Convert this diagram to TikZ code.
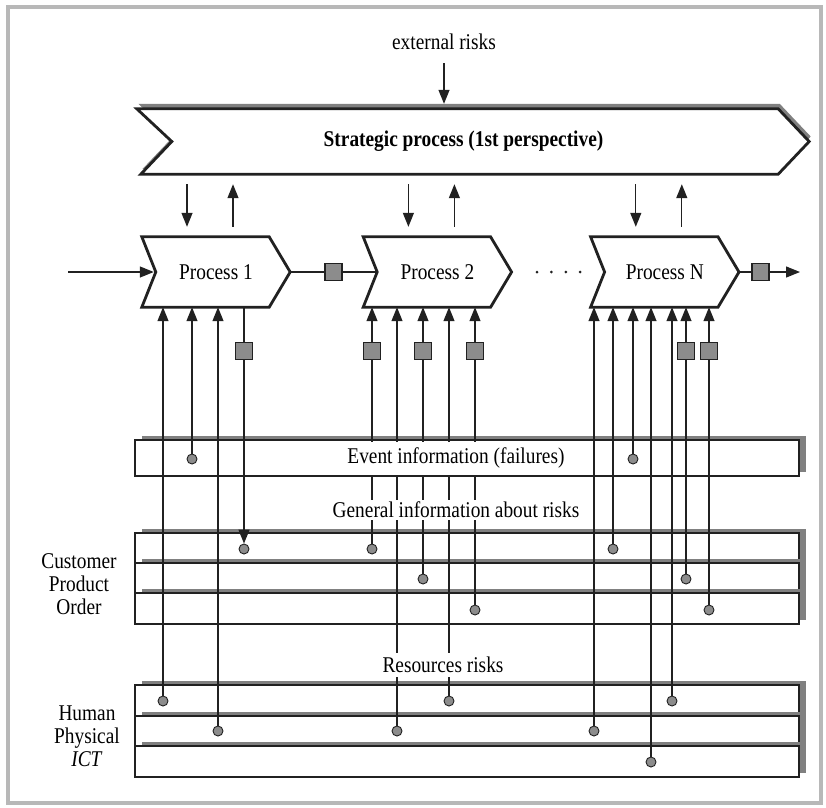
\documentclass[tikz,border=0pt]{standalone}
\usepackage{fontspec}
\setmainfont{Liberation Serif}[FakeStretch=0.86]
\usetikzlibrary{positioning,arrows.meta,shadows,backgrounds}
\definecolor{inkc}{gray}{0.13}
\definecolor{shadec}{gray}{0.5}
\definecolor{framec}{gray}{0.72}
\definecolor{dotc}{gray}{0.55}

\begin{document}
\begin{tikzpicture}[x=1pt,y=-1pt,
        font=\fontsize{22.5}{23}\selectfont,
        chev/.style={draw=inkc,fill=white,line width=2.8pt},
        bar/.style={draw=inkc,fill=white,line width=2.8pt,minimum width=664pt,minimum height=#1,
            inner sep=0pt,outer sep=0pt,drop shadow={shadow xshift=7pt,shadow yshift=4.5pt,fill=shadec,opacity=1}},
        box/.style={minimum width=148pt,minimum height=70pt,inner sep=0pt},
        wire/.style={draw=inkc,line width=1.3pt},
        arr/.style={wire,-{Triangle[length=14pt,width=11pt]}},
        dot/.style={circle,draw=inkc,line width=0.9pt,fill=dotc,minimum size=10pt,inner sep=0pt},
        sq/.style={rectangle,draw=inkc,line width=1.8pt,fill=dotc,minimum size=17pt,inner sep=0pt},
        lbl/.style={fill=white,inner sep=2pt}]
        \useasboundingbox (0,0) rectangle (826,807);
        \draw[framec,line width=4pt] (8,7) rectangle (821,803);

        \node (ext) at (444,42) {external risks};
        \node[box,minimum width=672pt,minimum height=65pt] (S) at (473,141.5) {};
        \node[font=\fontsize{22.5}{23}\selectfont\bfseries] (Stxt) at ([xshift=-9.5pt]S.center) {Strategic process (1st perspective)};

        \node[box] (P1) at (216,272) {Process 1};
        \node[box,right=73pt of P1] (P2) {Process 2};
        \node[box,right=79pt of P2] (PN) {Process N};

        \begin{scope}[on background layer]
            \draw[chev,drop shadow={shadow xshift=1.5pt,shadow yshift=5pt,fill=shadec,opacity=1}]
                (S.north west) -- ([xshift=-31pt]S.north east) -- (S.east) -- ([xshift=-31pt]S.south east)
                -- ([xshift=4pt]S.south west) -- ([xshift=35pt]S.west) -- cycle;
            \foreach \p in {P1,P2,PN}
                \draw[chev] (\p.north west) -- ([xshift=-21pt]\p.north east) -- (\p.east)
                    -- ([xshift=-21pt]\p.south east) -- (\p.south west) -- ([xshift=14pt]\p.west) -- cycle;
        \end{scope}

        \draw[arr,shorten <=10pt,shorten >=5pt] (ext) -- (ext |- S.north);

        \foreach \p in {P1,P2,PN} {
            \coordinate (\p-dn) at ([xshift=-29pt]\p.north);
            \coordinate (\p-up) at ([xshift=17pt]\p.north);
            \draw[arr,shorten <=10pt,shorten >=10pt] (\p-dn |- S.south) -- (\p-dn);
            \draw[arr,shorten <=10pt,shorten >=10pt] (\p-up) -- (\p-up |- S.south);
        }

        \coordinate (in) at (68,272);
        \coordinate (out) at (800,272);
        \draw[arr] (in) -- ([xshift=12pt]P1.west);
        \draw[wire] (P1.east) -- node[sq] {} ([xshift=13pt]P2.west);
        \foreach \i in {0,...,3}
            \fill[inkc] ({537+14.4*\i},272) circle (1.5pt);
        \draw[arr] (PN.east) -- node[sq,pos=0.355] {} (out);

        \node[bar=36pt] (E) at (467,458) {};
        \node[bar=30pt] (C) at (467,548) {};
        \node[bar=30pt,below=0pt of C] (Pd) {};
        \node[bar=31pt,below=0pt of Pd] (O) {};
        \node[bar=31pt] (H) at (467,700.5) {};
        \node[bar=30pt,below=0pt of H] (Ph) {};
        \node[bar=31pt,below=0pt of Ph] (I) {};

        \node[align=center] (cpo) at (79,584) {Customer\\Product\\Order};
        \node[align=center] (hpi) at (87,736) {Human\\Physical\\\textit{ICT}};

        \node[dot] (e1) at (192,459) {};
        \node[dot] (e2) at (633,459) {};
        \node[dot] (c1) at (244,549) {};
        \node[dot] (c2) at (372,549) {};
        \node[dot] (c3) at (613,549) {};
        \node[dot] (pr1) at (423,579) {};
        \node[dot] (pr2) at (686,579) {};
        \node[dot] (o1) at (475,610) {};
        \node[dot] (o2) at (709,610) {};
        \node[dot] (h1) at (163,701) {};
        \node[dot] (h2) at (449,701) {};
        \node[dot] (h3) at (672,701) {};
        \node[dot] (ph1) at (218,731) {};
        \node[dot] (ph2) at (397,731) {};
        \node[dot] (ph3) at (594,731) {};
        \node[dot] (i1) at (651,762) {};

        \coordinate (sqrow) at (0,351);

        \draw[arr] (h1) -- (h1 |- P1.south);
        \draw[arr] (e1) -- (e1 |- P1.south);
        \draw[arr] (ph1) -- (ph1 |- P1.south);
        \draw[arr] (c1 |- P1.south) -- (c1);
        \node[sq] at (c1 |- sqrow) {};

        \draw[arr] (c2) -- (c2 |- P2.south);
        \node[sq] at (c2 |- sqrow) {};
        \draw[arr] (ph2) -- (ph2 |- P2.south);
        \draw[arr] (pr1) -- (pr1 |- P2.south);
        \node[sq] at (pr1 |- sqrow) {};
        \draw[arr] (h2) -- (h2 |- P2.south);
        \draw[arr] (o1) -- (o1 |- P2.south);
        \node[sq] at (o1 |- sqrow) {};

        \draw[arr] (ph3) -- (ph3 |- PN.south);
        \draw[arr] (c3) -- (c3 |- PN.south);
        \draw[arr] (e2) -- (e2 |- PN.south);
        \draw[arr] (i1) -- (i1 |- PN.south);
        \draw[arr] (h3) -- (h3 |- PN.south);
        \draw[arr] (pr2) -- (pr2 |- PN.south);
        \node[sq] at (pr2 |- sqrow) {};
        \draw[arr] (o2) -- (o2 |- PN.south);
        \node[sq] at (o2 |- sqrow) {};

        \node[lbl,minimum height=33pt] (ev) at (456,458) {Event information (failures)};
        \node[lbl] (gen) at (456,510) {General information about risks};
        \node[lbl,inner sep=4pt] (res) at (443,665) {Resources risks};
\end{tikzpicture}
\end{document}
